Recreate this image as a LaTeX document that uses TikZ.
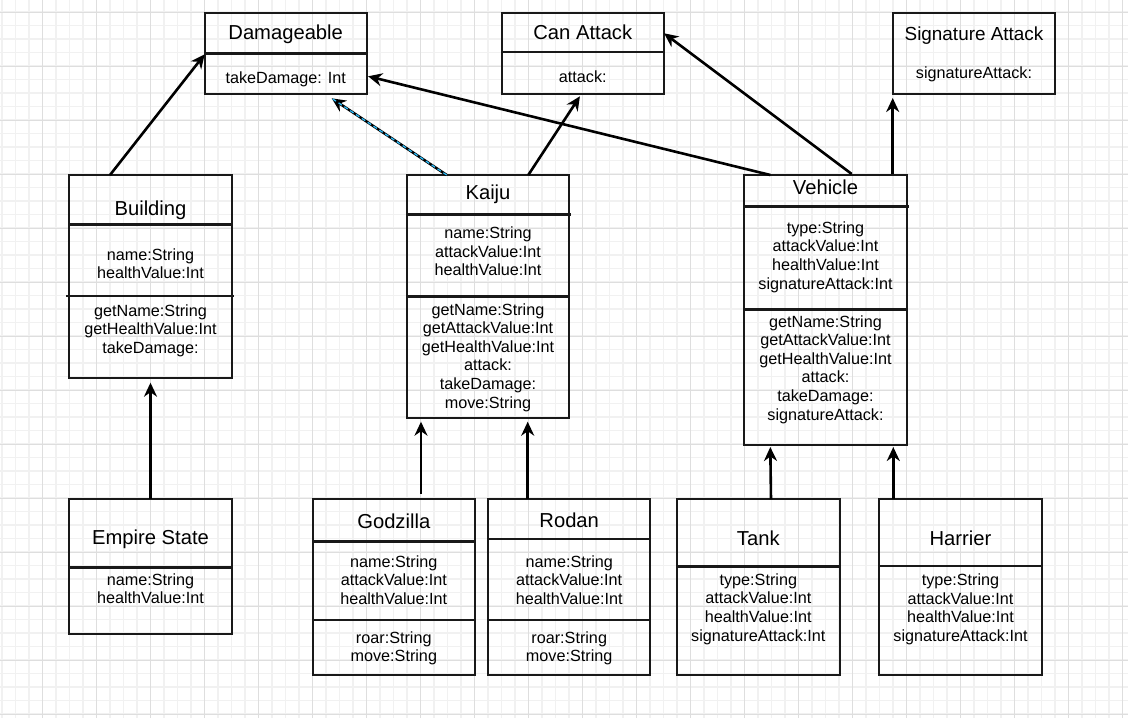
\documentclass[tikz,border=0pt]{standalone}
\usepackage{fontspec}
\setmainfont{Liberation Sans}
\usetikzlibrary{arrows.meta,calc}
\definecolor{gridminor}{HTML}{F1F1F1}
\definecolor{gridmajor}{HTML}{DEDEDE}
\definecolor{selblue}{HTML}{29B6F2}
\begin{document}
\begin{tikzpicture}[x=1pt,y=-1pt,
  cls/.style={draw=black!90, line width=2pt, inner sep=0pt, outer sep=0pt, anchor=north west, minimum width=162.4pt},
  sepline/.style={line width=2.6pt, draw=black!90},
  ttl/.style={font=\fontsize{20.2}{24}\selectfont, anchor=base, inner sep=0pt},
  ttls/.style={font=\fontsize{18.9}{22}\selectfont, anchor=base, inner sep=0pt},
  mem/.style={font=\fontsize{16.2}{18.6}\selectfont, anchor=base, align=center, inner sep=0pt},
  arr/.style={-{Stealth[length=14pt,width=13pt,inset=4.5pt]}, line width=2.6pt, black},
  selarr/.style={arr, postaction={draw=selblue, -, line width=1.3pt, dash pattern=on 4pt off 3pt}},
  gminor/.style={draw=gridminor, line width=1.2pt},
  gmajor/.style={draw=gridmajor, line width=1pt}
]
\useasboundingbox (0,0) rectangle (1128,718);
\fill[white] (0,0) rectangle (1128,718);
% grid
\foreach \i in {0,...,83} { \draw[gminor] ({2+13.5*\i},0) -- ({2+13.5*\i},718); }
\foreach \i in {0,...,54} { \draw[gminor] (0,{-1.5+13.5*\i}) -- (1128,{-1.5+13.5*\i}); }
\foreach \i in {0,...,20} { \draw[gmajor] ({42.5+54*\i},0) -- ({42.5+54*\i},718); }
\foreach \i in {0,...,13} { \draw[gmajor] (0,{12+54*\i}) -- (1128,{12+54*\i}); }

% ---- classes (member nodes are anchored at the baseline of their last line) ----
\node[cls, minimum height=81pt] (dmg) at (204.7,13.3) {};
\node[ttl] (dmgT) at (285.7,39.3) {Damageable};
\draw[sepline] ($(dmg.north west)+(0,40)$) -- ($(dmg.north east)+(0,40)$);
\node[mem] (dmgA) at (285.7,83) {takeDamage: Int};

\node[cls, minimum height=81pt] (can) at (501.7,13.3) {};
\node[ttl] (canT) at (582.8,39.3) {Can Attack};
\draw[sepline] ($(can.north west)+(0,38.6)$) -- ($(can.north east)+(0,38.6)$);
\node[mem] (canA) at (582.8,82.7) {attack:};

\node[cls, minimum height=81pt] (sig) at (892.7,13.3) {};
\node[ttls] (sigT) at (974,40.7) {Signature Attack};
\node[mem] (sigA) at (974,78.3) {signatureAttack:};

\node[cls, minimum height=202.7pt] (bld) at (69.3,175) {};
\node[ttl] (bldT) at (150.5,215) {Building};
\draw[sepline] ($(bld.north west)+(0,49.3)$) -- ($(bld.north east)+(0,49.3)$);
\draw[sepline] ($(bld.north west)+(-3.3,121)$) -- ($(bld.north east)+(2.3,121)$);
\node[mem] (bldA) at (150.5,278.6) {name:String\\healthValue:Int};
\node[mem] (bldM) at (150.5,353.4) {getName:String\\getHealthValue:Int\\takeDamage:};

\node[cls, minimum height=243.3pt] (kaiju) at (406.7,175) {};
\node[ttl] (kaijuT) at (488,199.3) {Kaiju};
\draw[sepline] ($(kaiju.north west)+(0,39.3)$) -- ($(kaiju.north east)+(1.7,39.3)$);
\draw[sepline] ($(kaiju.north west)+(0,121.7)$) -- ($(kaiju.north east)+(0,121.7)$);
\node[mem] (kaijuA) at (488,275.6) {name:String\\attackValue:Int\\healthValue:Int};
\node[mem] (kaijuM) at (488,408) {getName:String\\getAttackValue:Int\\getHealthValue:Int\\attack:\\takeDamage:\\move:String};

\node[cls, minimum height=270pt] (veh) at (744.3,175) {};
\node[ttl] (vehT) at (825.5,194) {Vehicle};
\draw[sepline] ($(veh.north west)+(0,31.7)$) -- ($(veh.north east)+(2.3,31.7)$);
\draw[sepline] ($(veh.north west)+(0,134.3)$) -- ($(veh.north east)+(0,134.3)$);
\node[mem] (vehA) at (825.5,289) {type:String\\attackValue:Int\\healthValue:Int\\signatureAttack:Int};
\node[mem] (vehM) at (825.5,420) {getName:String\\getAttackValue:Int\\getHealthValue:Int\\attack:\\takeDamage:\\signatureAttack:};

\node[cls, minimum height=135pt] (emp) at (69.3,499.3) {};
\node[ttl] (empT) at (150.5,544) {Empire State};
\draw[sepline] ($(emp.north west)+(0,68)$) -- ($(emp.north east)+(0,68)$);
\node[mem] (empA) at (150.5,603.6) {name:String\\healthValue:Int};

\node[cls, minimum height=175.2pt] (godz) at (312.7,499.3) {};
\node[ttl] (godzT) at (393.8,528.3) {Godzilla};
\draw[sepline] ($(godz.north west)+(0,42.4)$) -- ($(godz.north east)+(0,42.4)$);
\draw[sepline] ($(godz.north west)+(0,120.7)$) -- ($(godz.north east)+(0,120.7)$);
\node[mem] (godzA) at (393.8,604.5) {name:String\\attackValue:Int\\healthValue:Int};
\node[mem] (godzM) at (393.8,661.9) {roar:String\\move:String};

\node[cls, minimum height=175.2pt] (rodan) at (487.7,499.3) {};
\node[ttl] (rodanT) at (569.2,527.7) {Rodan};
\draw[sepline] ($(rodan.north west)+(0,39.7)$) -- ($(rodan.north east)+(0,39.7)$);
\draw[sepline] ($(rodan.north west)+(0,120.7)$) -- ($(rodan.north east)+(0,120.7)$);
\node[mem] (rodanA) at (569.2,604.5) {name:String\\attackValue:Int\\healthValue:Int};
\node[mem] (rodanM) at (569.2,661.9) {roar:String\\move:String};

\node[cls, minimum height=175.2pt] (tank) at (677.3,499.3) {};
\node[ttl] (tankT) at (758.3,545.7) {Tank};
\draw[sepline] ($(tank.north west)+(-1.3,67.4)$) -- ($(tank.north east)+(0,67.4)$);
\node[mem] (tankA) at (758.3,641.1) {type:String\\attackValue:Int\\healthValue:Int\\signatureAttack:Int};

\node[cls, minimum height=175.7pt] (harr) at (879.3,499.3) {};
\node[ttl] (harrT) at (960.5,545.7) {Harrier};
\draw[sepline] ($(harr.north west)+(0,66.7)$) -- ($(harr.north east)+(0,66.7)$);
\node[mem] (harrA) at (960.5,641.5) {type:String\\attackValue:Int\\healthValue:Int\\signatureAttack:Int};

% ---- connectors ----
\draw[arr] ($(bld.north west)+(40.7,0)$) -- ($(dmg.north west)+(0,41)$);
\draw[arr] (emp.north) -- ($(bld.south)+(0,5)$);
\draw[selarr] ($(kaiju.north west)+(40,0)$) -- ($(dmg.south west)+(127,4)$);
\draw[arr] ($(kaiju.north west)+(121.6,0)$) -- ($(can.south)+(-3,2)$);
\draw[arr] ($(veh.north west)+(26,0)$) -- ($(dmg.north east)+(1,63)$);
\draw[arr] ($(veh.north west)+(107.4,-1)$) -- ($(can.north east)+(0,20)$);
\draw[arr] ($(veh.north west)+(148.4,-1)$) -- ($(sig.south west)+(0,3.7)$);
\draw[arr] ($(godz.north west)+(108.3,-5.5)$) -- ($(kaiju.south west)+(14.3,3.4)$);
\draw[arr] ($(rodan.north west)+(40,0)$) -- ($(kaiju.south west)+(121,3.4)$);
\draw[arr] ($(tank.north west)+(93.7,0)$) -- ($(veh.south west)+(26,2)$);
\draw[arr] ($(harr.north west)+(14,0)$) -- ($(veh.south west)+(149,2)$);
\end{tikzpicture}
\end{document}
